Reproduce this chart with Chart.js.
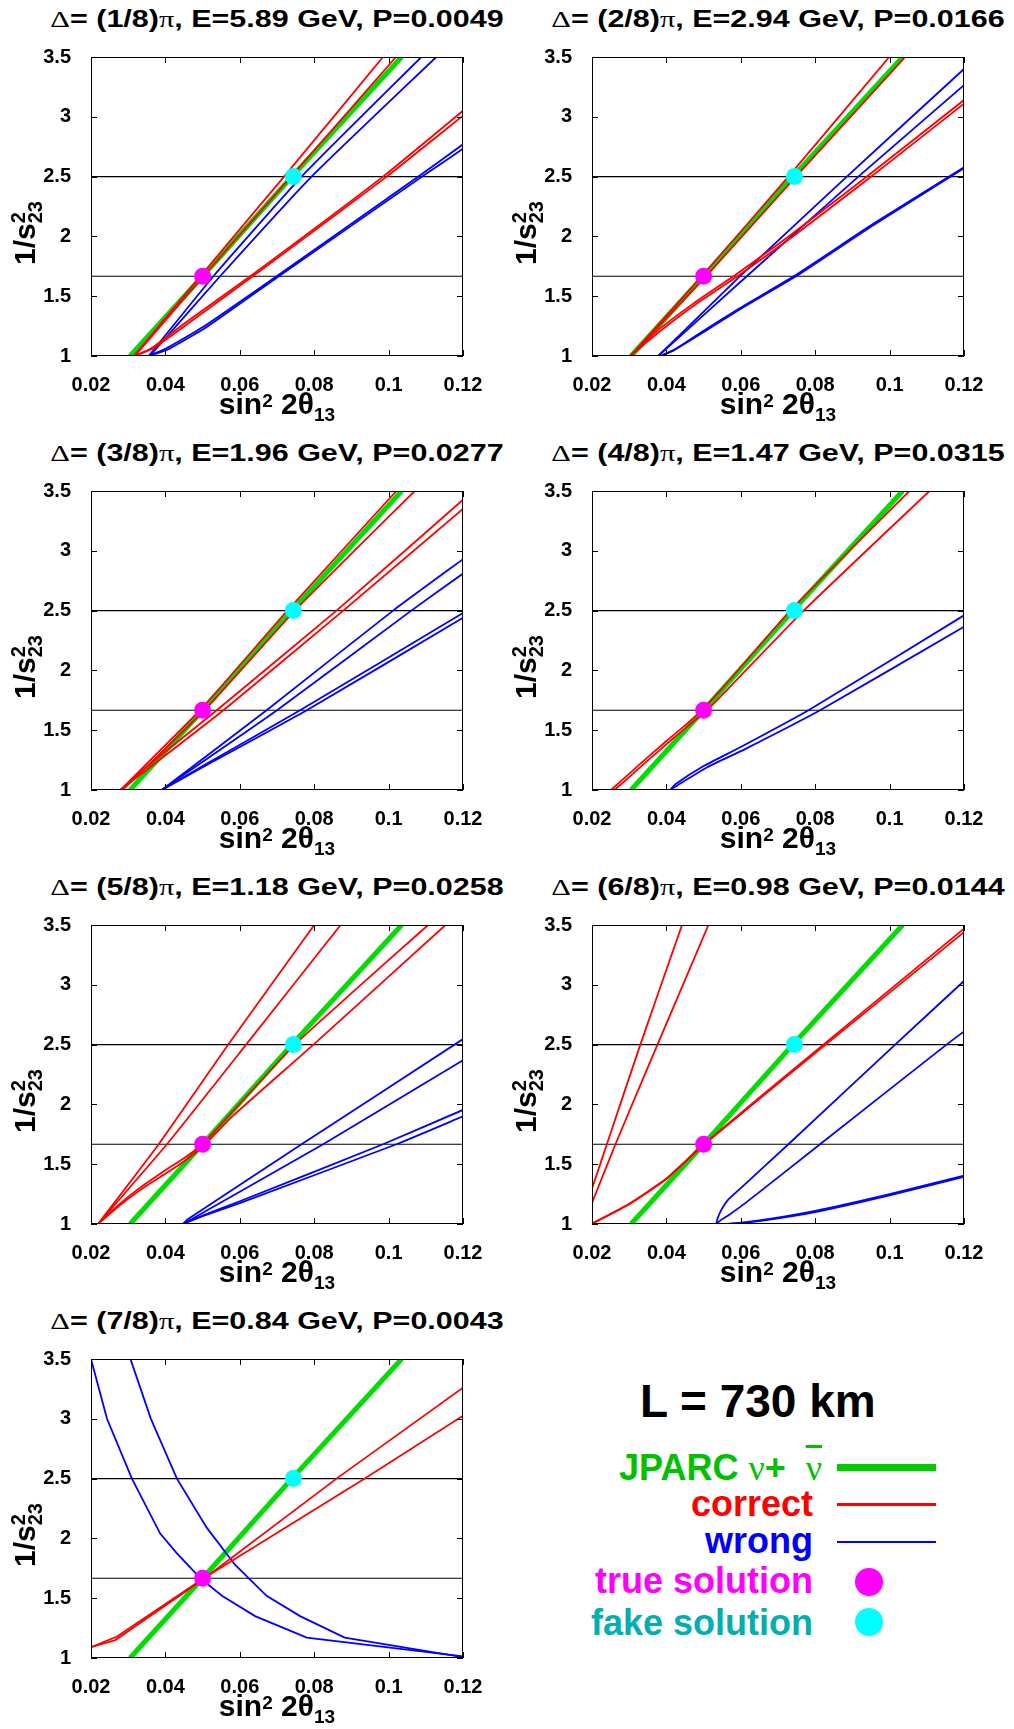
<!DOCTYPE html>
<html>
<head>
<meta charset="utf-8">
<script src="https://cdn.jsdelivr.net/npm/chart.js@4.4.0/dist/chart.umd.min.js"></script>
<style>
  body { margin: 0; background: #fff; }
  #page { position: relative; width: 1014px; height: 1729px; overflow: hidden;
          font-family: "Liberation Sans", Arial, sans-serif; font-weight: bold; color: #000; }
  .box { position: absolute; }
  .ttl { position: absolute; white-space: nowrap; font-size: 24px; line-height: 24px;
         transform-origin: center; transform: translateX(-50%) scaleX(1.27); }
  .sym { font-family: "Liberation Serif", serif; font-weight: normal; }
  .xt { position: absolute; white-space: nowrap; font-size: 30px; line-height: 30px; transform: translateX(-50%); }
  .yt { position: absolute; white-space: nowrap; font-size: 30px; line-height: 30px;
        transform-origin: 0 0; transform: rotate(-90deg); }
  .sup, .sub { font-size: 19px; line-height: 0; }
  .leg { position: absolute; white-space: nowrap; font-size: 36px; line-height: 36px; text-align: right; }
  .mark { position: absolute; }
</style>
</head>
<body>
<div id="page"></div>
<script>
// axes
const xTicks = [0.02, 0.04, 0.06, 0.08, 0.1, 0.12];
const xTickLabels = ['0.02', '0.04', '0.06', '0.08', '0.1', '0.12'];
const yTicks = [1, 1.5, 2, 2.5, 3, 3.5];
const yTickLabels = ['1', '1.5', '2', '2.5', '3', '3.5'];

// 1/s23^2 for s23^2 = 0.6 and 0.4
const refLevels = [5 / 3, 2.5];
const trueSolution = [0.05, 5 / 3];
const fakeSolution = [0.0744, 2.5];

const deltaLabels = ['(1/8)', '(2/8)', '(3/8)', '(4/8)', '(5/8)', '(6/8)', '(7/8)'];
const energies = ['5.89', '2.94', '1.96', '1.47', '1.18', '0.98', '0.84'];
const probs = ['0.0049', '0.0166', '0.0277', '0.0315', '0.0258', '0.0144', '0.0043'];

// JPARC nu + nubar, same in every panel
const greenLine = [[0.0305, 1.0], [0.05, 1.667], [0.074, 2.5], [0.1035, 3.5]];

// correct / wrong hierarchy curves, [x, y] pairs
const red1 = [
  [[0.0315, 1.0], [0.0494, 1.667], [0.0719, 2.5], [0.0985, 3.5]],
  [[0.0318, 1.0], [0.0502, 1.667], [0.0738, 2.5], [0.102, 3.5]],
  [[0.0318, 1.0], [0.036, 1.06], [0.045, 1.27], [0.0628, 1.667], [0.0985, 2.5], [0.12, 3.05]],
  [[0.0318, 1.0], [0.037, 1.07], [0.046, 1.27], [0.0635, 1.667], [0.0995, 2.5], [0.12, 3.01]]
];
const blue1 = [
  [[0.0355, 1.0], [0.0529, 1.667], [0.0766, 2.5], [0.1088, 3.5]],
  [[0.0358, 1.0], [0.0547, 1.667], [0.0793, 2.5], [0.1128, 3.5]],
  [[0.0355, 1.0], [0.04, 1.06], [0.05, 1.24], [0.0699, 1.667], [0.108, 2.5], [0.12, 2.77]],
  [[0.0355, 1.0], [0.041, 1.06], [0.051, 1.24], [0.0705, 1.667], [0.109, 2.5], [0.12, 2.733]]
];
const red2 = [
  [[0.0303, 1.0], [0.0495, 1.667], [0.0728, 2.5], [0.0999, 3.5]],
  [[0.0303, 1.0], [0.0507, 1.667], [0.0748, 2.5], [0.1042, 3.5]],
  [[0.0303, 1.0], [0.0375, 1.21], [0.0473, 1.44], [0.0589, 1.685], [0.0733, 2.01], [0.0921, 2.457], [0.12, 3.14]],
  [[0.0303, 1.0], [0.038, 1.2], [0.0478, 1.43], [0.0595, 1.675], [0.074, 2.0], [0.093, 2.45], [0.12, 3.11]]
];
const blue2 = [
  [[0.0378, 1.0], [0.0598, 1.667], [0.0885, 2.5], [0.12, 3.4]],
  [[0.0378, 1.0], [0.0616, 1.667], [0.0916, 2.5], [0.12, 3.265]],
  [[0.0384, 1.0], [0.0419, 1.049], [0.05, 1.211], [0.0598, 1.401], [0.0742, 1.666], [0.0956, 2.105], [0.12, 2.579]],
  [[0.0384, 1.0], [0.042, 1.047], [0.0503, 1.205], [0.06, 1.395], [0.0745, 1.66], [0.0958, 2.098], [0.12, 2.57]]
];
const red3 = [
  [[0.0279, 1.0], [0.0493, 1.667], [0.0728, 2.5], [0.1021, 3.5]],
  [[0.0285, 1.0], [0.0505, 1.667], [0.0748, 2.5], [0.107, 3.5]],
  [[0.0279, 1.0], [0.034, 1.17], [0.0538, 1.667], [0.086, 2.5], [0.12, 3.427]],
  [[0.0279, 1.0], [0.035, 1.17], [0.0556, 1.667], [0.0878, 2.5], [0.12, 3.35]]
];
const blue3 = [
  [[0.039, 1.0], [0.0672, 1.667], [0.1012, 2.5], [0.12, 2.93]],
  [[0.039, 1.0], [0.07, 1.667], [0.1061, 2.5], [0.12, 2.81]],
  [[0.039, 1.0], [0.05, 1.2], [0.0762, 1.667], [0.12, 2.48]],
  [[0.039, 1.0], [0.05, 1.19], [0.078, 1.667], [0.12, 2.44]]
];
const red4 = [
  [[0.0251, 1.0], [0.028, 1.08], [0.033, 1.22], [0.04, 1.41], [0.045, 1.54], [0.0495, 1.668], [0.055, 1.85], [0.0733, 2.5], [0.1053, 3.5]],
  [[0.026, 1.0], [0.029, 1.08], [0.034, 1.22], [0.041, 1.41], [0.046, 1.54], [0.0509, 1.667], [0.057, 1.86], [0.0769, 2.5], [0.1107, 3.5]]
];
const blue4 = [
  [[0.041, 1.0], [0.0425, 1.05], [0.05, 1.2], [0.06, 1.36], [0.0782, 1.667], [0.12, 2.46]],
  [[0.041, 1.0], [0.043, 1.04], [0.051, 1.19], [0.061, 1.34], [0.0813, 1.667], [0.12, 2.365]]
];
const red5 = [
  [[0.0219, 1.0], [0.0382, 1.667], [0.0569, 2.5], [0.08, 3.5]],
  [[0.0219, 1.0], [0.0404, 1.667], [0.0617, 2.5], [0.0871, 3.5]],
  [[0.0219, 1.0], [0.027, 1.15], [0.033, 1.3], [0.04, 1.45], [0.045, 1.55], [0.05, 1.667], [0.056, 1.87], [0.0748, 2.5], [0.1106, 3.5]],
  [[0.0219, 1.0], [0.0275, 1.15], [0.0335, 1.29], [0.0405, 1.43], [0.0457, 1.54], [0.0507, 1.667], [0.058, 1.9], [0.0798, 2.5], [0.1153, 3.5]]
];
const blue5 = [
  [[0.0447, 1.0], [0.046, 1.04], [0.0766, 1.667], [0.12, 2.546]],
  [[0.0447, 1.0], [0.047, 1.04], [0.0824, 1.667], [0.12, 2.37]],
  [[0.0447, 1.0], [0.05, 1.07], [0.06, 1.19], [0.0985, 1.667], [0.12, 1.954]],
  [[0.0447, 1.0], [0.05, 1.065], [0.06, 1.175], [0.1021, 1.667], [0.12, 1.9]]
];
const red6 = [
  [[0.02, 1.297], [0.024, 1.667], [0.033, 2.5], [0.0442, 3.5]],
  [[0.02, 1.176], [0.0263, 1.667], [0.0376, 2.5], [0.0513, 3.5]],
  [[0.02, 1.005], [0.03, 1.17], [0.04, 1.38], [0.05, 1.667], [0.0822, 2.5], [0.12, 3.47]],
  [[0.02, 1.0], [0.03, 1.165], [0.04, 1.375], [0.0502, 1.667], [0.0828, 2.5], [0.12, 3.44]]
];
const blue6 = [
  [[0.0534, 1.0], [0.0538, 1.05], [0.0548, 1.12], [0.0565, 1.2], [0.06, 1.3], [0.0728, 1.667], [0.1015, 2.5], [0.12, 3.032]],
  [[0.0534, 1.0], [0.0545, 1.03], [0.057, 1.08], [0.0618, 1.189], [0.0813, 1.667], [0.1153, 2.5], [0.12, 2.61]],
  [[0.0534, 1.0], [0.057, 1.003], [0.065, 1.03], [0.08, 1.11], [0.1, 1.25], [0.12, 1.405]],
  [[0.0534, 1.0], [0.057, 1.0], [0.065, 1.025], [0.08, 1.1], [0.1, 1.24], [0.12, 1.395]]
];
const red7 = [
  [[0.02, 1.09], [0.0265, 1.15], [0.05, 1.655], [0.086, 2.5], [0.12, 3.26]],
  [[0.02, 1.09], [0.027, 1.18], [0.05, 1.66], [0.0936, 2.5], [0.12, 3.026]]
];
const blue7 = [
  [[0.02, 3.5], [0.0243, 3.0], [0.031, 2.5], [0.0386, 2.04], [0.0431, 1.875], [0.0493, 1.67], [0.0552, 1.52], [0.0641, 1.35], [0.078, 1.17], [0.12, 1.013]],
  [[0.0306, 3.5], [0.0361, 3.0], [0.0431, 2.5], [0.0511, 2.09], [0.0587, 1.78], [0.0672, 1.52], [0.0762, 1.35], [0.0882, 1.17], [0.12, 1.008]]
];

const redCurves = [red1, red2, red3, red4, red5, red6, red7];
const blueCurves = [blue1, blue2, blue3, blue4, blue5, blue6, blue7];

const page = document.getElementById('page');

// gnuplot style box with inward ticks on all sides
const frameTicks = {
  id: 'frameTicks',
  afterDatasetsDraw(chart) {
    const { ctx, chartArea: a, scales: { x, y } } = chart;
    ctx.save();
    ctx.strokeStyle = '#000';
    ctx.lineWidth = 1;
    ctx.beginPath();
    x.ticks.forEach(t => {
      const px = Math.round(x.getPixelForValue(t.value)) + 0.5;
      ctx.moveTo(px, a.bottom); ctx.lineTo(px, a.bottom - 6);
      ctx.moveTo(px, a.top); ctx.lineTo(px, a.top + 6);
    });
    y.ticks.forEach(t => {
      const py = Math.round(y.getPixelForValue(t.value)) + 0.5;
      ctx.moveTo(a.left, py); ctx.lineTo(a.left + 6, py);
      ctx.moveTo(a.right, py); ctx.lineTo(a.right - 6, py);
    });
    ctx.stroke();
    ctx.strokeRect(Math.round(a.left) + 0.5, Math.round(a.top) + 0.5,
                   Math.round(a.right - a.left) - 1, Math.round(a.bottom - a.top) - 1);
    ctx.restore();
  }
};

function curve(pts, color, width, tension) {
  return {
    data: pts.map(p => ({ x: p[0], y: p[1] })),
    showLine: true, borderColor: color, borderWidth: width,
    pointRadius: 0, tension: tension, fill: false
  };
}

function dot(p, color) {
  return {
    data: [{ x: p[0], y: p[1] }],
    showLine: false, pointRadius: 8.5, pointBackgroundColor: color, pointBorderWidth: 0
  };
}

function addDiv(cls, html, style) {
  const d = document.createElement('div');
  d.className = cls;
  d.innerHTML = html;
  Object.assign(d.style, style);
  page.appendChild(d);
  return d;
}

const PLOT_W = 372, PLOT_H = 308;
const PAD_L = 70, PAD_T = 15, PAD_R = 30, PAD_B = 40;

for (let i = 0; i < 7; i++) {
  const col = i % 2, row = Math.floor(i / 2);
  const plotLeft = col ? 592 : 91;
  const plotTop = 48 + 434 * row;

  const box = document.createElement('div');
  box.className = 'box';
  box.style.left = (plotLeft - PAD_L) + 'px';
  box.style.top = (plotTop - PAD_T) + 'px';
  const canvas = document.createElement('canvas');
  canvas.width = PLOT_W + PAD_L + PAD_R;
  canvas.height = PLOT_H + PAD_T + PAD_B;
  box.appendChild(canvas);
  page.appendChild(box);

  const tension = i === 6 ? 0 : 0.15;
  const datasets = [dot(trueSolution, '#ff00ff'), dot(fakeSolution, '#00ffff')];
  redCurves[i].forEach(c => datasets.push(curve(c, '#ff0000', 1.8, tension)));
  blueCurves[i].forEach(c => datasets.push(curve(c, '#0000ff', 1.8, tension)));
  datasets.push(curve(greenLine, '#00dd00', 5, 0));
  refLevels.forEach(v => datasets.push(curve([[0.02, v], [0.12, v]], '#000000', 1.2, 0)));

  new Chart(canvas, {
    type: 'scatter',
    data: { datasets },
    options: {
      responsive: false,
      animation: false,
      events: [],
      layout: { autoPadding: false, padding: { left: 0, top: PAD_T, right: PAD_R, bottom: 0 } },
      plugins: { legend: { display: false }, tooltip: { enabled: false } },
      scales: {
        x: {
          type: 'linear', min: 0.02, max: 0.12,
          afterBuildTicks: s => { s.ticks = xTicks.map(v => ({ value: v })); },
          afterFit: s => { s.height = PAD_B; },
          grid: { display: false }, border: { display: false },
          ticks: {
            padding: 9, maxRotation: 0, autoSkip: false, color: '#000',
            font: { family: '"Liberation Sans", Arial, sans-serif', size: 20, weight: 'bold' },
            callback: (v, idx) => xTickLabels[idx]
          }
        },
        y: {
          type: 'linear', min: 1, max: 3.5,
          afterBuildTicks: s => { s.ticks = yTicks.map(v => ({ value: v })); },
          afterFit: s => { s.width = PAD_L; },
          grid: { display: false }, border: { display: false },
          ticks: {
            padding: 12, autoSkip: false, color: '#000',
            font: { family: '"Liberation Sans", Arial, sans-serif', size: 20, weight: 'bold' },
            callback: (v, idx) => yTickLabels[idx]
          }
        }
      }
    },
    plugins: [frameTicks]
  });

  const cx = plotLeft + PLOT_W / 2;
  addDiv('ttl',
    '<span class="sym">\u0394</span>= ' + deltaLabels[i] + '<span class="sym">\u03c0</span>, E=' +
    energies[i] + ' GeV, P=' + probs[i],
    { left: cx + 'px', top: (plotTop - 20.5 - 20.3) + 'px' });

  addDiv('xt',
    'sin<span class="sup" style="vertical-align:7px">2</span> 2\u03b8<span class="sub" style="vertical-align:-6.7px">13</span>',
    { left: cx + 'px', top: (plotTop + PLOT_H + 58.5 - 25.4) + 'px' });

  addDiv('yt',
    '1/s<span class="sup" style="font-size:20px;vertical-align:10px">2</span><span class="sub" style="font-size:20px;vertical-align:-6.7px;margin-left:-11.1px">23</span>',
    { left: (plotLeft - 81.1) + 'px', top: (plotTop + 216.7) + 'px' });
}

// legend panel
addDiv('leg', 'L = 730 km', { left: '640px', top: (1416.7 - 39) + 'px', fontSize: '46px', lineHeight: '46px', textAlign: 'left' });

const legendRows = [
  { html: 'JPARC <span class="sym">\u03bd</span>+&nbsp;&nbsp;<span class="sym" style="text-decoration:overline">\u03bd</span>',
    color: '#00c000', right: 822, base: 1480 },
  { html: 'correct', color: '#ff0000', right: 813, base: 1516.7 },
  { html: 'wrong', color: '#0000ff', right: 813, base: 1553.3 },
  { html: 'true solution', color: '#ff00ff', right: 813, base: 1593.3 },
  { html: 'fake solution', color: '#00b0b0', right: 813, base: 1635 }
];
legendRows.forEach(r => {
  addDiv('leg', r.html, { right: (1014 - r.right) + 'px', top: (r.base - 30.5) + 'px', color: r.color });
});

addDiv('mark', '', { left: '837px', width: '99px', top: '1463.5px', height: '7.5px', background: '#00cc00' });
addDiv('mark', '', { left: '837px', width: '99px', top: '1503px', height: '2.5px', background: '#ff0000' });
addDiv('mark', '', { left: '837px', width: '99px', top: '1540.5px', height: '2.5px', background: '#0000ff' });
addDiv('mark', '', { left: '854.7px', width: '28px', top: '1567.7px', height: '28px', borderRadius: '50%', background: '#ff00ff' });
addDiv('mark', '', { left: '854.7px', width: '28px', top: '1608.3px', height: '28px', borderRadius: '50%', background: '#00ffff' });
</script>
</body>
</html>
